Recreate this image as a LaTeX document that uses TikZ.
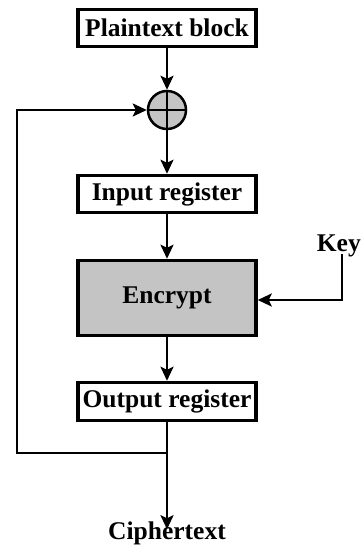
\documentclass[tikz,border=0pt]{standalone}
\usepackage{fontspec}
\setmainfont{Liberation Serif}
\usetikzlibrary{arrows.meta}
\definecolor{boxgray}{RGB}{196,196,196}
\begin{document}
\begin{tikzpicture}[x=1pt,y=-1pt,
  regbox/.style={draw, line width=3.5pt, minimum width=178pt, inner sep=0pt,
    font=\fontsize{25.5}{29}\selectfont\bfseries},
  lbl/.style={inner sep=0pt, font=\fontsize{25.5}{29}\selectfont\bfseries},
  flow/.style={line width=2.3pt, -{Stealth[length=14pt,width=13pt,inset=3pt]}},
  wire/.style={line width=2.3pt}]
\useasboundingbox (0,0) rectangle (362,546);

\node[regbox, minimum height=37pt] (plain) at (167,28) {Plaintext block};
\node[draw, circle, line width=2.5pt, fill=boxgray, minimum size=38pt, inner sep=0pt] (xor) at (167,110) {};
\draw[wire] (xor.north) -- (xor.south) (xor.west) -- (xor.east);
\node[regbox, minimum height=37pt] (input) at (167,194) {Input register};
\node[regbox, minimum height=75pt, fill=boxgray] (enc) at (167,298) {Encrypt};
\node[regbox, minimum height=38pt] (output) at (167,401.5) {Output register};
\node[lbl, anchor=east] (key) at (361,246) {Key};
\node[lbl] (cipher) at (167,533) {Ciphertext};

\coordinate (split) at (167,453);
\coordinate (corner) at (17,453);
\coordinate (keybend) at (342,300);

\draw[flow] (plain.south) -- (xor.north);
\draw[flow] (xor.south) -- (input.north);
\draw[flow] (input.south) -- (enc.north);
\draw[flow] (enc.south) -- (output.north);
\draw[wire] (output.south) -- (split);
\draw[flow] (split) -- ([yshift=-8pt]cipher.north);
\draw[flow] (split) -- (corner) |- (xor.west);
\draw[flow] (keybend |- key.south) ++(0,3pt) -- (keybend) -- (enc.east |- keybend);
\end{tikzpicture}
\end{document}
